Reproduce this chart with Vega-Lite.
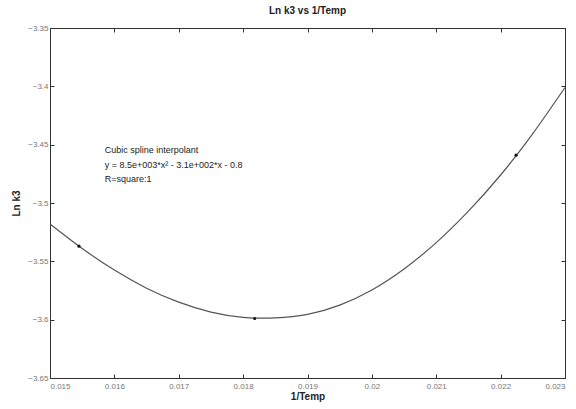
{
  "$schema": "https://vega.github.io/schema/vega-lite/v6.json",
  "width": 515,
  "height": 350,
  "autosize": {"type": "none"},
  "padding": {"left": 50, "top": 28, "right": 11, "bottom": 31},
  "background": "white",
  "title": {"text": "Ln k3 vs 1/Temp", "fontSize": 10, "fontWeight": "bold", "font": "Liberation Sans", "color": "#222", "offset": 8},
  "config": {
    "view": {"stroke": "#333", "strokeWidth": 1},
    "axis": {"grid": false, "domainColor": "#333", "tickColor": "#333", "labelFont": "Liberation Sans", "labelFontSize": 8, "labelColor": "#777", "titleFont": "Liberation Sans", "titleFontSize": 10, "titleFontWeight": "bold", "titleColor": "#222", "tickSize": -4, "labelPadding": 6}
  },
  "datasets": {
    "curve": [
      {"x": 0.015, "y": -3.518},
      {"x": 0.0155, "y": -3.539},
      {"x": 0.016, "y": -3.5575},
      {"x": 0.0165, "y": -3.573},
      {"x": 0.017, "y": -3.585},
      {"x": 0.0175, "y": -3.5935},
      {"x": 0.018, "y": -3.598},
      {"x": 0.0185, "y": -3.5985},
      {"x": 0.019, "y": -3.5955},
      {"x": 0.0195, "y": -3.5875},
      {"x": 0.02, "y": -3.5745},
      {"x": 0.0205, "y": -3.5565},
      {"x": 0.021, "y": -3.534},
      {"x": 0.0215, "y": -3.507},
      {"x": 0.022, "y": -3.476},
      {"x": 0.0225, "y": -3.4405},
      {"x": 0.023, "y": -3.401}
    ],
    "points": [
      {"x": 0.01545, "y": -3.537},
      {"x": 0.01818, "y": -3.599},
      {"x": 0.02224, "y": -3.459}
    ],
    "notes": [
      {"x": 0.01585, "y": -3.4545, "label": "Cubic spline interpolant"},
      {"x": 0.01585, "y": -3.467, "label": "y = 8.5e+003*x² - 3.1e+002*x - 0.8"},
      {"x": 0.01585, "y": -3.4795, "label": "R=square:1"}
    ]
  },
  "layer": [
    {
      "data": {"name": "curve"},
      "mark": {"type": "line", "color": "#555", "strokeWidth": 1.2, "interpolate": "natural"},
      "encoding": {
        "x": {"field": "x", "type": "quantitative", "scale": {"domain": [0.015, 0.023], "nice": false}, "axis": {"title": "1/Temp", "values": [0.015, 0.016, 0.017, 0.018, 0.019, 0.02, 0.021, 0.022, 0.023], "format": "~g", "labelPadding": 8, "titlePadding": 1}},
        "y": {"field": "y", "type": "quantitative", "scale": {"domain": [-3.65, -3.35], "nice": false, "zero": false}, "axis": {"title": "Ln k3", "values": [-3.65, -3.6, -3.55, -3.5, -3.45, -3.4, -3.35], "format": "~g", "titlePadding": 6}}
      }
    },
    {
      "data": {"name": "points"},
      "mark": {"type": "point", "filled": true, "color": "#111", "size": 10, "opacity": 1},
      "encoding": {
        "x": {"field": "x", "type": "quantitative", "axis": {"orient": "top", "labels": false, "title": null, "values": [0.015, 0.016, 0.017, 0.018, 0.019, 0.02, 0.021, 0.022, 0.023]}},
        "y": {"field": "y", "type": "quantitative", "axis": {"orient": "right", "labels": false, "title": null, "values": [-3.65, -3.6, -3.55, -3.5, -3.45, -3.4, -3.35]}}
      }
    },
    {
      "data": {"name": "notes"},
      "mark": {"type": "text", "align": "left", "baseline": "middle", "font": "Liberation Sans", "fontSize": 9, "color": "#222"},
      "encoding": {
        "x": {"field": "x", "type": "quantitative", "axis": null},
        "y": {"field": "y", "type": "quantitative", "axis": null},
        "text": {"field": "label"}
      }
    }
  ],
  "resolve": {"axis": {"x": "independent", "y": "independent"}}
}
